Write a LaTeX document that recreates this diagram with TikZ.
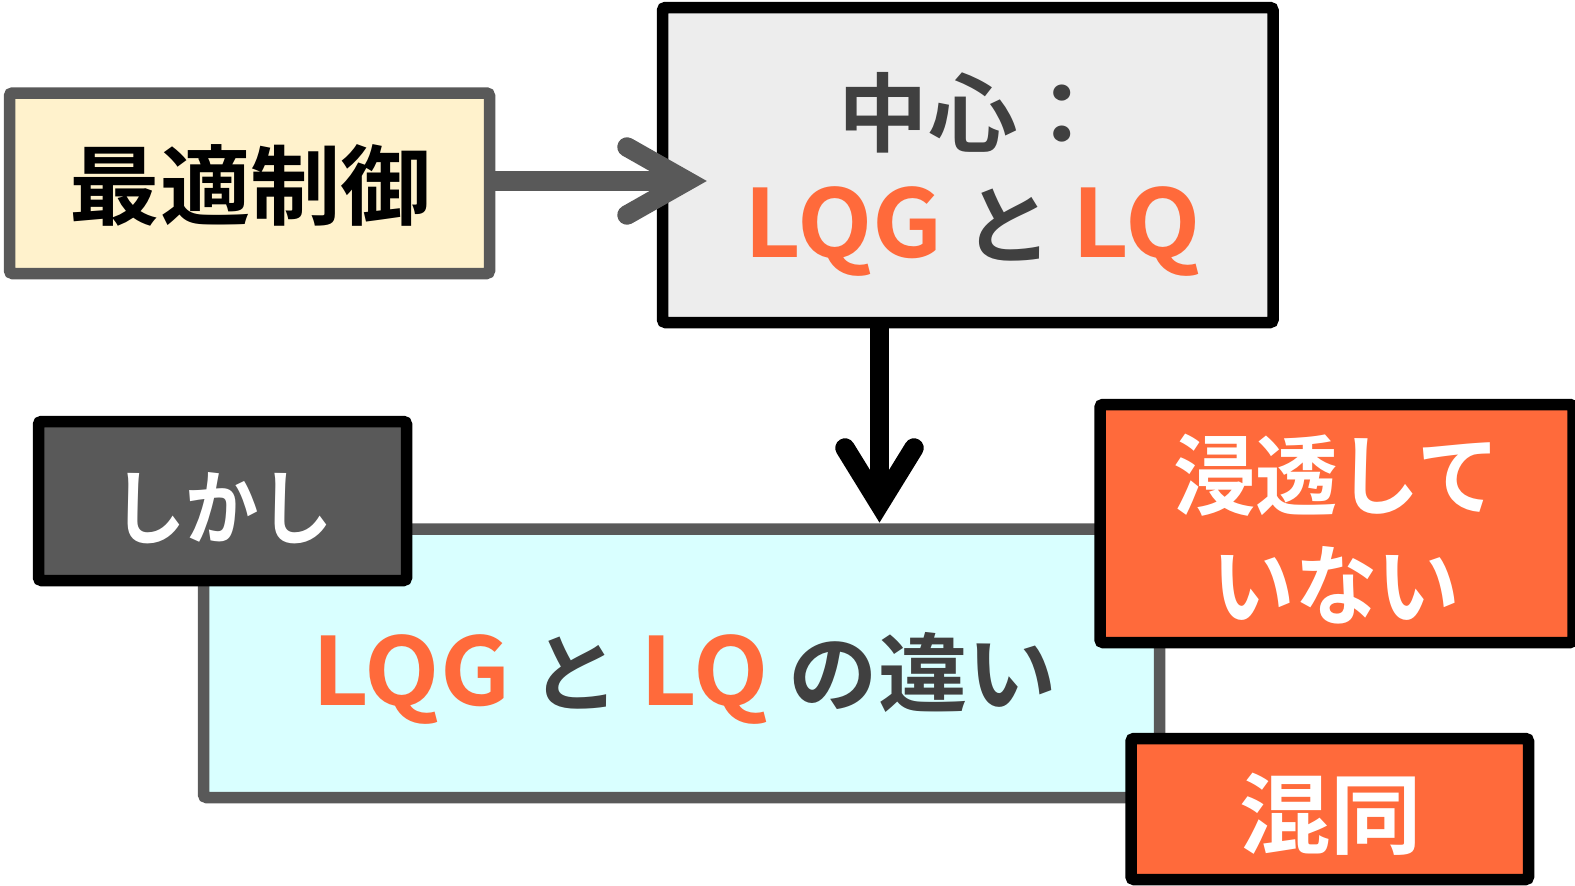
\documentclass[tikz,border=0pt]{standalone}
\usepackage{fontspec}
\newfontfamily\jpb{Noto Sans CJK JP Bold}[FakeStretch=1.04]
\usetikzlibrary{calc}
\definecolor{cream}{HTML}{FFF2CC}
\definecolor{bord}{HTML}{595959}
\definecolor{lgray}{HTML}{EDEDED}
\definecolor{lcyan}{HTML}{D9FFFF}
\definecolor{orng}{HTML}{FF6A3B}
\definecolor{dtext}{HTML}{404040}
\newcommand\latn[1]{{\fontsize{94}{110}\selectfont #1}}
\begin{document}
\begin{tikzpicture}[x=1pt,y=-1pt,
  box/.style={rectangle, rounded corners=3pt, line width=11.5pt, inner sep=0pt, outer sep=0pt},
  txt/.style={inner sep=0pt, align=center},
  arr/.style={line width=19.5pt},
  chev/.style={line width=19.5pt, line cap=round, line join=miter, miter limit=10}]
\useasboundingbox (0,0) rectangle (1575,886);
% top-left box
\node[box, draw=bord, fill=cream, minimum width=480pt, minimum height=180.5pt] (opt) at (249.5,183.25) {};
\node[txt, font=\jpb\fontsize{87}{100}\selectfont] (optt) at ($(opt)+(1,2)$) {最適制御};
% top-right box
\node[box, draw=black, fill=lgray, minimum width=610.5pt, minimum height=315pt] (ctr) at (967.75,165) {};
\node[txt, font=\jpb\fontsize{86}{112}\selectfont] (ctrt) at ($(ctr)+(5,9)$)
      {\textcolor{dtext}{中心：}\\\textcolor{orng}{\latn{LQG}} \textcolor{dtext}{と} \textcolor{orng}{\latn{LQ}}};
% arrow 1
\coordinate (t1) at (687,181);
\draw[arr, draw=bord] (opt.east |- t1) -- (t1);
\draw[chev, draw=bord] ($(t1)+(-60,-34)$) -- (t1) -- ($(t1)+(-60,34)$);
% big box
\node[box, draw=bord, fill=lcyan, minimum width=956pt, minimum height=268.5pt] (diff) at (681.5,663.25) {};
\node[txt, font=\jpb\fontsize{86}{110}\selectfont] (difft) at ($(diff)+(3,15)$)
      {\textcolor{orng}{\latn{LQG}} \textcolor{dtext}{と} \textcolor{orng}{\latn{LQ}} \textcolor{dtext}{の違い}};
% arrow 2
\coordinate (t2) at (879.5,504);
\draw[arr, draw=black] (ctr.south -| t2) -- (t2);
\draw[chev, draw=black] ($(t2)+(-34.5,-56)$) -- (t2) -- ($(t2)+(34.5,-56)$);
% side boxes
\node[box, draw=black, fill=bord, minimum width=368pt, minimum height=159pt] (but) at (222.5,501) {};
\node[txt, text=white, font=\jpb\fontsize{82}{100}\selectfont] (butt) at ($(but)+(0,7)$) {\scalebox{0.86}[1]{しかし}};
\node[box, draw=black, fill=orng, minimum width=473pt, minimum height=238pt] (pen) at (1336.5,523.5) {};
\node[txt, text=white, font=\jpb\fontsize{88}{110}\selectfont] (pent) at ($(pen)+(0,6)$)
      {\scalebox{0.9}[1]{浸透して}\\\scalebox{0.9}[1]{いない}};
\node[box, draw=black, fill=orng, minimum width=397.5pt, minimum height=141pt] (conf) at (1329.75,809) {};
\node[txt, text=white, font=\jpb\fontsize{88}{110}\selectfont] (conft) at ($(conf)+(1,5)$) {混同};
\end{tikzpicture}
\end{document}
